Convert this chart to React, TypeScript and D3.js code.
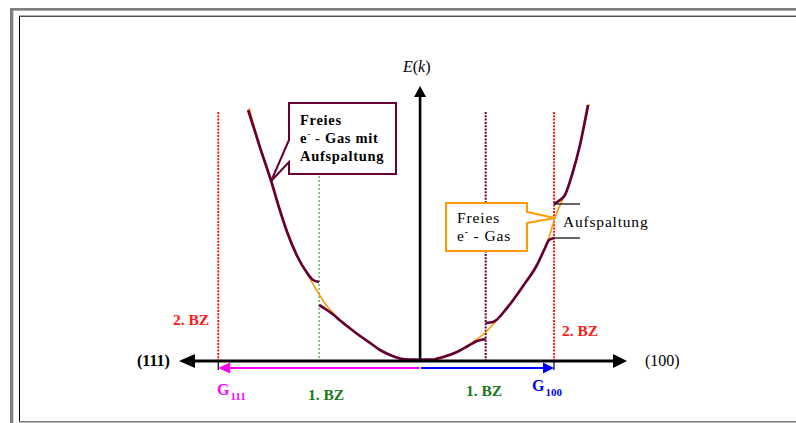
import React, { useEffect, useRef } from 'react';
import * as d3 from 'd3';

type Pt = [number, number];

const WIDTH = 796;
const HEIGHT = 423;

// k in units of |G100|, E in arbitrary units
const K_DOMAIN: [number, number] = [-1.8, 1.545];
const E_DOMAIN: [number, number] = [0, 2.75];

const G_111 = -1.507;
const G_100 = 1.0;
const BZ1_EDGES = [-0.754, 0.49];
const BZ2_EDGES = [G_111, G_100];
const GUIDE_TOP = 2.49;

// free electron parabola
const freeElectronGas: Pt[] = [
  [-1.276, 2.53], [-1.194, 2.14], [-1.112, 1.81], [-1.052, 1.54], [-0.993, 1.3],
  [-0.918, 1.06], [-0.843, 0.87], [-0.791, 0.75], [-0.746, 0.65], [-0.701, 0.56],
  [-0.649, 0.48], [-0.597, 0.41], [-0.522, 0.33], [-0.448, 0.25], [-0.373, 0.18],
  [-0.299, 0.11], [-0.224, 0.06], [-0.112, 0.01], [0, 0], [0.112, 0.01],
  [0.224, 0.06], [0.351, 0.15], [0.425, 0.22], [0.493, 0.29], [0.56, 0.39],
  [0.649, 0.53], [0.769, 0.75], [0.873, 0.96], [0.933, 1.13], [0.963, 1.24],
  [1.007, 1.43], [1.052, 1.58], [1.09, 1.69], [1.134, 1.86], [1.194, 2.16], [1.261, 2.57],
];

// bands with gaps at the zone edges
const band1: Pt[] = [
  [-0.754, 0.56], [-0.701, 0.515], [-0.649, 0.465], [-0.597, 0.405], [-0.522, 0.325],
  [-0.448, 0.25], [-0.373, 0.18], [-0.299, 0.11], [-0.224, 0.06], [-0.149, 0.025],
  [-0.085, 0.015], [0.0, 0.015], [0.097, 0.015], [0.127, 0.025], [0.172, 0.04],
  [0.276, 0.09], [0.358, 0.15], [0.425, 0.2], [0.49, 0.22],
];
const band2: Pt[] = [
  [0.49, 0.38], [0.545, 0.39], [0.649, 0.53], [0.769, 0.75], [0.873, 0.96],
  [0.933, 1.13], [0.963, 1.21], [1.0, 1.23],
];
const band3Left: Pt[] = [
  [-1.284, 2.51], [-1.194, 2.13], [-1.112, 1.8], [-1.052, 1.53], [-0.993, 1.29],
  [-0.918, 1.05], [-0.843, 0.88], [-0.799, 0.81], [-0.754, 0.79],
];
const band3Right: Pt[] = [
  [1.0, 1.57], [1.045, 1.61], [1.082, 1.66], [1.134, 1.86], [1.194, 2.16], [1.254, 2.56],
];

const gapLevels = [1.23, 1.57];
const GAP_TICK_END = 1.194;

const SERIF = '"Liberation Serif", "Times New Roman", serif';
const MAROON = '#660033';
const ORANGE = '#ff9900';

const App: React.FC = () => {
  const svgRef = useRef<SVGSVGElement | null>(null);

  useEffect(() => {
    document.body.style.margin = '0';
    if (!svgRef.current) {
      return;
    }
    const svg = d3.select(svgRef.current);
    svg.selectAll('*').remove();

    const x = d3.scaleLinear().domain(K_DOMAIN).range([179, 627]);
    const y = d3.scaleLinear().domain(E_DOMAIN).range([361, 86]);
    const x0 = x(0);
    const y0 = y(0);

    // page frame
    svg.append('rect').attr('width', WIDTH).attr('height', HEIGHT).attr('fill', '#fff');
    svg.append('rect').attr('x', 10).attr('y', 8).attr('width', WIDTH - 10).attr('height', 2.7).attr('fill', '#808080');
    svg.append('rect').attr('x', 10).attr('y', 8).attr('width', 3.3).attr('height', HEIGHT - 8).attr('fill', '#808080');
    svg.append('rect').attr('x', 19).attr('y', 421).attr('width', WIDTH - 19).attr('height', 1.6).attr('fill', '#808080');
    svg.append('line').attr('x1', 19.5).attr('x2', 19.5).attr('y1', 16).attr('y2', 421).attr('stroke', '#000');
    svg.append('line').attr('x1', 19).attr('x2', WIDTH).attr('y1', 16.2).attr('y2', 16.2).attr('stroke', '#000');

    // zone boundary guides
    const guide = (k: number, color: string, w: number, dash: string) =>
      svg.append('line')
        .attr('x1', x(k)).attr('x2', x(k))
        .attr('y1', y(GUIDE_TOP)).attr('y2', y0)
        .attr('stroke', color).attr('stroke-width', w).attr('stroke-dasharray', dash);
    guide(BZ2_EDGES[0], '#ff0000', 1.8, '2,1.3');
    guide(BZ2_EDGES[1], '#ff0000', 1.8, '2,1.3');
    guide(BZ1_EDGES[0], '#339933', 1.1, '2,2');
    guide(BZ1_EDGES[1], MAROON, 2, '2,1.3');

    const line = d3.line<Pt>().x(d => x(d[0])).y(d => y(d[1])).curve(d3.curveMonotoneX);

    svg.append('path').attr('d', line(freeElectronGas)).attr('fill', 'none')
      .attr('stroke', ORANGE).attr('stroke-width', 1.5);

    [band1, band2, band3Left, band3Right].forEach(band => {
      svg.append('path').attr('d', line(band)).attr('fill', 'none')
        .attr('stroke', MAROON).attr('stroke-width', 2.7).attr('stroke-linejoin', 'round');
    });

    gapLevels.forEach(e => {
      svg.append('line')
        .attr('x1', x(G_100)).attr('x2', x(GAP_TICK_END))
        .attr('y1', y(e)).attr('y2', y(e))
        .attr('stroke', '#000').attr('stroke-width', 1.2);
    });

    // axes
    const [kLeft, kRight] = K_DOMAIN.map(x);
    const eTop = y(E_DOMAIN[1]);
    svg.append('line').attr('x1', kLeft + 10).attr('x2', kRight - 10).attr('y1', y0).attr('y2', y0)
      .attr('stroke', '#000').attr('stroke-width', 3);
    svg.append('path').attr('d', `M${kLeft},${y0} L${kLeft + 16},${y0 - 7} L${kLeft + 16},${y0 + 7} Z`).attr('fill', '#000');
    svg.append('path').attr('d', `M${kRight},${y0} L${kRight - 14},${y0 - 7} L${kRight - 14},${y0 + 7} Z`).attr('fill', '#000');
    svg.append('line').attr('x1', x0).attr('x2', x0).attr('y1', y0).attr('y2', eTop + 8)
      .attr('stroke', '#000').attr('stroke-width', 2.6);
    svg.append('path').attr('d', `M${x0},${eTop} L${x0 - 6},${eTop + 11} L${x0 + 6},${eTop + 11} Z`).attr('fill', '#000');

    // reciprocal lattice vectors
    const gy = y0 + 7;
    const xg111 = x(G_111);
    const xg100 = x(G_100);
    svg.append('line').attr('x1', x0 - 0.8).attr('x2', xg111 + 10).attr('y1', gy).attr('y2', gy)
      .attr('stroke', '#ff00ff').attr('stroke-width', 2);
    svg.append('path').attr('d', `M${xg111},${gy} L${xg111 + 12},${gy - 5.5} L${xg111 + 12},${gy + 5.5} Z`).attr('fill', '#ff00ff');
    svg.append('line').attr('x1', x0 + 0.8).attr('x2', xg100 - 10).attr('y1', gy).attr('y2', gy)
      .attr('stroke', '#0000ff').attr('stroke-width', 2);
    svg.append('path').attr('d', `M${xg100},${gy} L${xg100 - 11},${gy - 5.5} L${xg100 - 11},${gy + 5.5} Z`).attr('fill', '#0000ff');
    [xg111, xg100].forEach(px => {
      svg.append('line').attr('x1', px).attr('x2', px).attr('y1', y0).attr('y2', gy + 2)
        .attr('stroke', '#000').attr('stroke-width', 1.2);
    });

    const label = (tx: number, ty: number, text: string, opts: { size?: number; weight?: string | number; fill?: string; italic?: boolean; spacing?: number } = {}) =>
      svg.append('text')
        .attr('x', tx).attr('y', ty)
        .attr('font-family', SERIF)
        .attr('font-size', opts.size ?? 15)
        .attr('font-weight', opts.weight ?? 'normal')
        .attr('font-style', opts.italic ? 'italic' : 'normal')
        .attr('letter-spacing', opts.spacing ?? 0)
        .attr('fill', opts.fill ?? '#000')
        .text(text);

    label(137, 366, '(111)', { weight: 'bold', size: 16 });
    label(645, 366, '(100)', { size: 16 });

    const eLabel = svg.append('text').attr('x', 403).attr('y', 72)
      .attr('font-family', SERIF).attr('font-size', 16);
    eLabel.append('tspan').attr('font-style', 'italic').text('E');
    eLabel.append('tspan').text('(');
    eLabel.append('tspan').attr('font-style', 'italic').text('k');
    eLabel.append('tspan').text(')');

    label(173, 325, '2. BZ', { weight: 'bold', fill: '#ff1a1a', size: 15.5 });
    label(562, 336, '2. BZ', { weight: 'bold', fill: '#ff1a1a', size: 15.5 });
    label(308, 400, '1. BZ', { weight: 'bold', fill: '#1a7a1a', size: 15.5 });
    label(466, 396, '1. BZ', { weight: 'bold', fill: '#1a7a1a', size: 15.5 });

    const gLabel = (tx: number, ty: number, sub: string, fill: string) => {
      const t = svg.append('text').attr('x', tx).attr('y', ty)
        .attr('font-family', SERIF).attr('font-weight', 'bold').attr('fill', fill);
      t.append('tspan').attr('font-size', 16).text('G');
      t.append('tspan').attr('font-size', 11).attr('dy', 5).attr('dx', 1).text(sub);
    };
    gLabel(217, 395, '111', '#ff00ff');
    gLabel(532, 391, '100', '#0000ff');

    // callout boxes
    const tip1: Pt = [x(band3Left[2][0]), y(band3Left[2][1])];
    svg.append('path')
      .attr('d', `M289,103 H396 V174 H289 V162 L${tip1[0]},${tip1[1]} L289,140 Z`)
      .attr('fill', '#fff').attr('stroke', MAROON).attr('stroke-width', 2);

    const tip2: Pt = [x(freeElectronGas[30][0]), y(freeElectronGas[30][1])];
    svg.append('path')
      .attr('d', `M446,203 H527 V212 L${tip2[0]},${tip2[1]} L527,223 V251 H446 Z`)
      .attr('fill', '#fff').attr('stroke', ORANGE).attr('stroke-width', 2);

    const electronLine = (tx: number, ty: number, rest: string, weight: string, size: number, spacing: number) => {
      const t = svg.append('text').attr('x', tx).attr('y', ty)
        .attr('font-family', SERIF).attr('font-weight', weight)
        .attr('font-size', size).attr('letter-spacing', spacing).attr('fill', '#000');
      t.append('tspan').text('e');
      t.append('tspan').attr('font-size', size * 0.6).attr('dy', -6).text('-');
      t.append('tspan').attr('dy', 6).text(rest);
    };

    label(300, 125, 'Freies', { weight: 'bold', size: 14.5, spacing: 0.7 });
    electronLine(300, 143, ' - Gas mit', 'bold', 14.5, 0.7);
    label(300, 161, 'Aufspaltung', { weight: 'bold', size: 14.5, spacing: 0.7 });

    label(457, 223, 'Freies', { size: 15.5, spacing: 0.9 });
    electronLine(457, 241, ' - Gas', 'normal', 15.5, 0.9);
    label(563, 227, 'Aufspaltung', { size: 15.5, spacing: 0.8 });
  }, []);

  return (
    <svg
      ref={svgRef}
      width={WIDTH}
      height={HEIGHT}
      style={{ position: 'absolute', left: 0, top: 0, display: 'block' }}
      role="img"
      aria-label="E(k) band structure with zone-boundary splitting"
    />
  );
};

export default App;
